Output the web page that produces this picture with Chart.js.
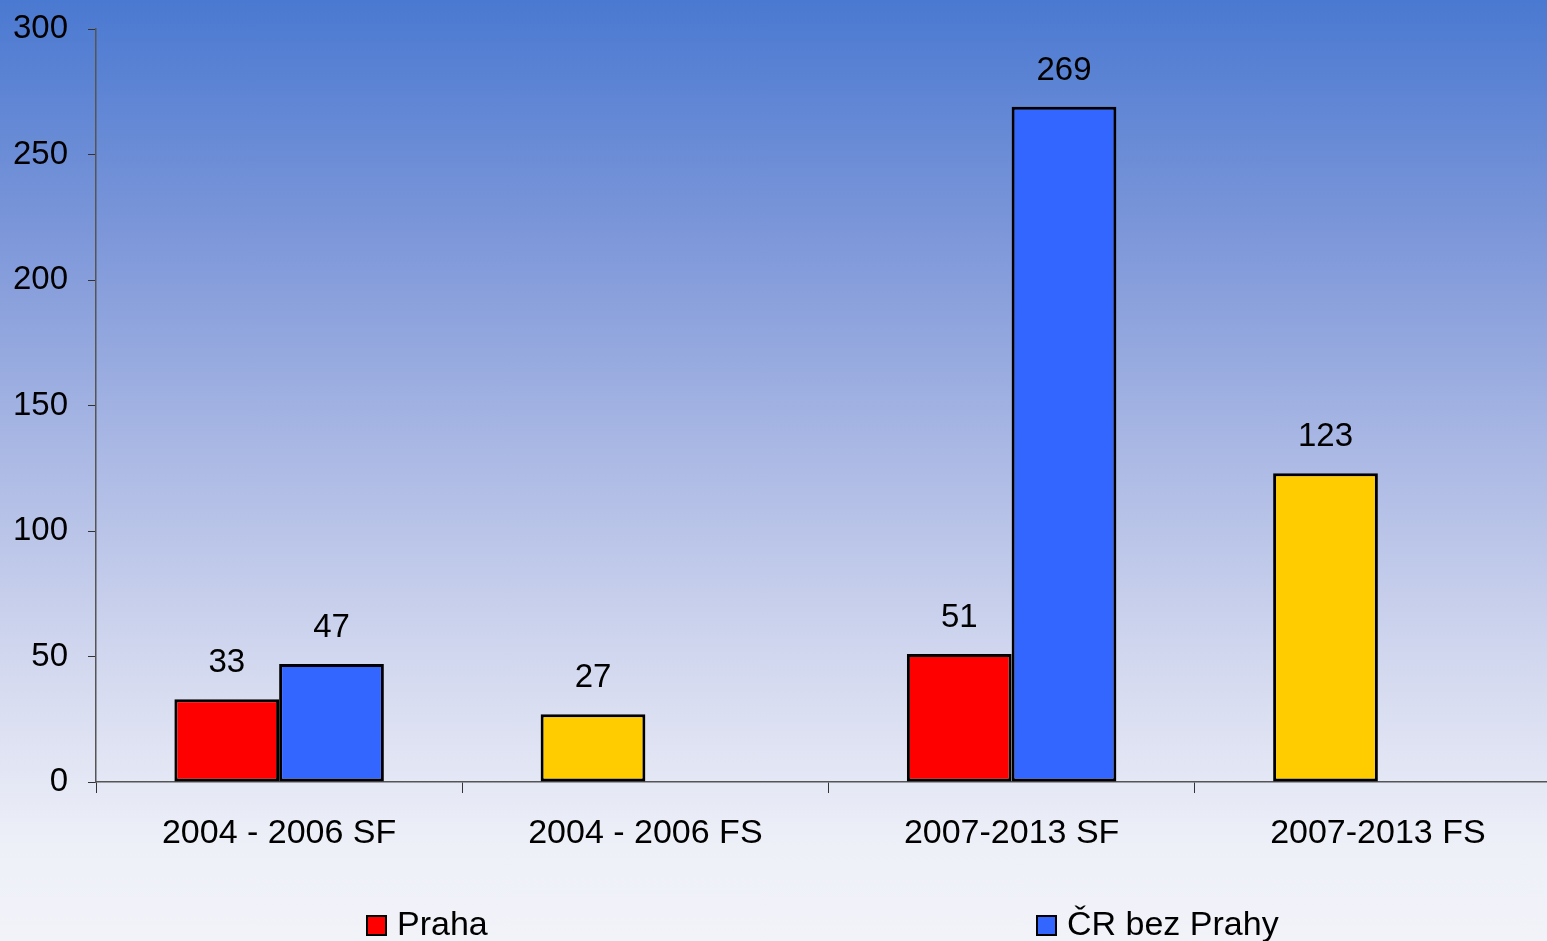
<!DOCTYPE html>
<html>
<head>
<meta charset="utf-8">
<script src="https://cdn.jsdelivr.net/npm/chart.js@4/dist/chart.umd.min.js"></script>
<style>
html,body{margin:0;padding:0;width:1547px;height:941px;overflow:hidden;}
body{background:linear-gradient(to bottom,#4a79d1 0%,#7d97d9 25%,#aab8e4 48%,#d0d6ee 69%,#eef0f8 90%,#f2f3f9 100%);}
#wrap{width:1562px;height:941px;position:relative;}
</style>
</head>
<body>
<div id="wrap"><canvas id="c" width="1562" height="941"></canvas></div>
<script>
const categories = ["2004 - 2006 SF", "2004 - 2006 FS", "2007-2013 SF", "2007-2013 FS"];
const prahaValues = [33, 27, 51, 123];
const crValues = [47, null, 269, null];
const yTicks = [0, 50, 100, 150, 200, 250, 300];
const seriesNames = ["Praha", "ČR bez Prahy"];

const RED = '#FF0000', BLUE = '#3366FF', YELLOW = '#FFCC00';
const FONT = 'Liberation Sans, Arial, sans-serif';

const labelPlugin = {
  id: 'valueLabels',
  afterDatasetsDraw(chart) {
    const ctx = chart.ctx;
    ctx.save();
    ctx.font = '33px ' + FONT;
    ctx.fillStyle = '#000';
    ctx.textAlign = 'center';
    ctx.textBaseline = 'alphabetic';
    chart.data.datasets.forEach((ds, i) => {
      const meta = chart.getDatasetMeta(i);
      meta.data.forEach((bar, j) => {
        const v = ds.data[j];
        if (v === null || v === undefined) return;
        ctx.fillText(String(v), bar.x, bar.y - 27);
      });
    });
    ctx.restore();
  }
};

const legendPlugin = {
  id: 'customLegend',
  afterDraw(chart) {
    const ctx = chart.ctx;
    ctx.save();
    ctx.font = '34px ' + FONT;
    ctx.textBaseline = 'alphabetic';
    ctx.textAlign = 'left';
    const items = [
      {x: 367, color: RED, text: seriesNames[0]},
      {x: 1037, color: BLUE, text: seriesNames[1]}
    ];
    items.forEach(it => {
      ctx.fillStyle = it.color;
      ctx.fillRect(it.x, 916, 19, 19);
      ctx.strokeStyle = '#000';
      ctx.lineWidth = 2;
      ctx.strokeRect(it.x, 916, 19, 19);
      ctx.fillStyle = '#000';
      ctx.fillText(it.text, it.x + 30, 935);
    });
    ctx.restore();
  }
};

new Chart(document.getElementById('c'), {
  type: 'bar',
  data: {
    labels: categories,
    datasets: [
      {
        label: seriesNames[0],
        data: prahaValues,
        backgroundColor: [RED, YELLOW, RED, YELLOW],
        borderColor: '#000',
        borderWidth: 3,
        borderSkipped: false,
        barPercentage: 1.0,
        categoryPercentage: 0.572
      },
      {
        label: seriesNames[1],
        data: crValues,
        backgroundColor: BLUE,
        borderColor: '#000',
        borderWidth: 3,
        borderSkipped: false,
        barPercentage: 1.0,
        categoryPercentage: 0.572
      }
    ]
  },
  options: {
    responsive: false,
    animation: false,
    layout: {padding: {top: 29, right: 1, left: 0, bottom: 0}},
    plugins: {legend: {display: false}, tooltip: {enabled: false}},
    scales: {
      x: {
        grid: {display: true, drawOnChartArea: false, drawTicks: true, tickLength: 11, color: '#333', offset: true},
        border: {display: true, color: '#555', width: 1.5},
        ticks: {color: '#000', font: {size: 34, family: FONT}, padding: 20, maxRotation: 0, autoSkip: false},
        afterFit(s) { s.height = 159; s.paddingLeft = 0; s.paddingRight = 0; }
      },
      y: {
        min: 0, max: 300,
        afterBuildTicks(s) { s.ticks = yTicks.map(v => ({value: v})); },
        grid: {display: true, drawOnChartArea: false, drawTicks: true, tickLength: 8, color: '#333'},
        border: {display: true, color: '#555', width: 1.5},
        ticks: {color: '#000', font: {size: 33, family: FONT}, padding: 20},
        afterFit(s) { s.width = 96; s.paddingTop = 0; s.paddingBottom = 0; }
      }
    }
  },
  plugins: [labelPlugin, legendPlugin]
});
</script>
</body>
</html>
